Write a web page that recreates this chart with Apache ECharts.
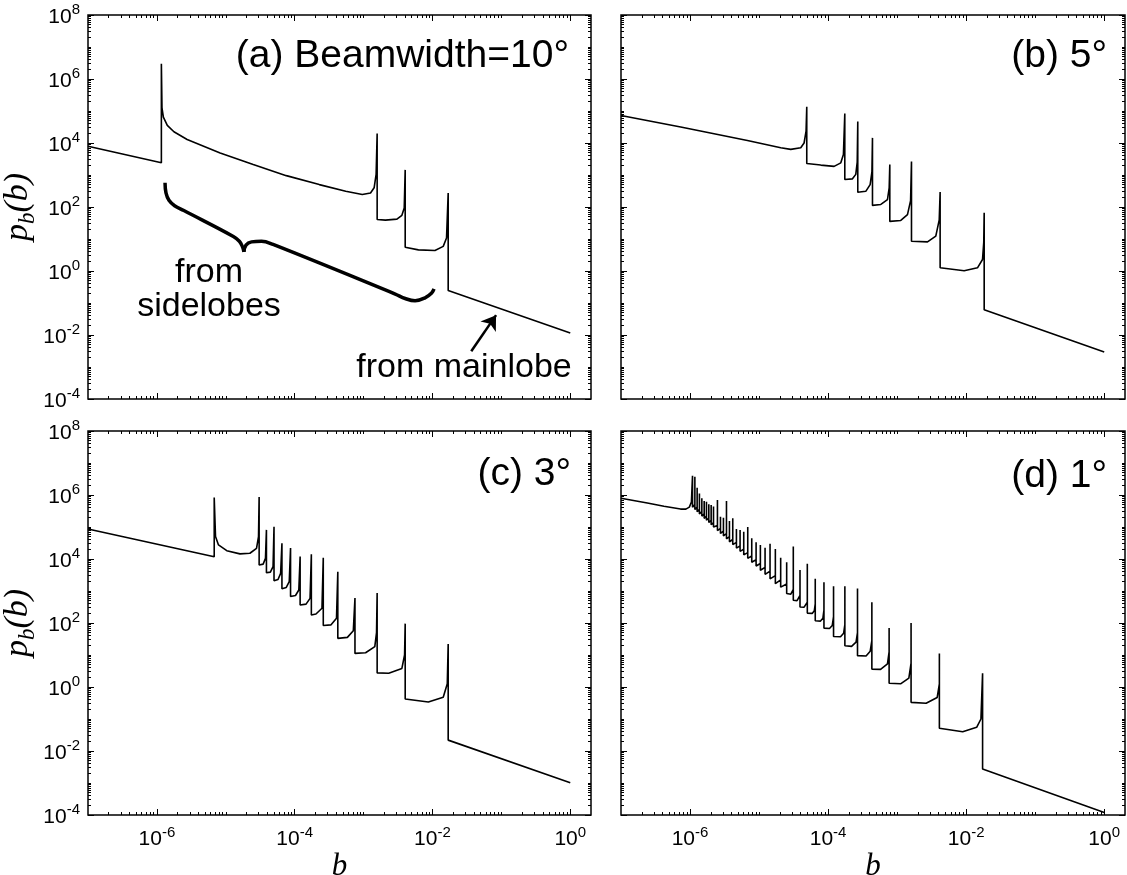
<!DOCTYPE html>
<html>
<head>
<meta charset="utf-8">
<script src="https://cdn.jsdelivr.net/npm/echarts@6/dist/echarts.min.js"></script>
<style>
html,body{margin:0;padding:0;background:#fff;}
#chart{width:1127px;height:875px;}
</style>
</head>
<body>
<div id="chart"></div>
<script>
// ---------- DATA (as [log10 b, log10 p_b(b)]) ----------
const panelA = [
  [-7,3.90],[-5.935,3.38],[-5.935,6.48],[-5.926,5.10],[-5.906,4.81],[-5.849,4.55],[-5.753,4.35],
  [-5.561,4.11],[-5.082,3.69],[-4.602,3.33],[-4.122,2.98],[-3.643,2.70],[-3.259,2.49],[-3.019,2.39],
  [-2.899,2.44],[-2.847,2.60],[-2.818,3.02],[-2.803,4.30],
  [-2.803,1.61],[-2.683,1.59],[-2.516,1.62],[-2.444,1.74],[-2.410,1.97],[-2.396,3.16],
  [-2.396,0.74],[-2.204,0.66],[-1.964,0.64],[-1.844,0.77],[-1.796,1.03],[-1.772,2.44],
  [-1.772,-0.61],[0,-1.94]
];
const panelB = [
  [-7,4.86],[-6.135,4.50],[-5.169,4.08],[-4.686,3.85],[-4.541,3.80],[-4.396,3.85],[-4.348,4.00],[-4.319,4.37],[-4.309,5.13],
  [-4.309,3.36],[-4.106,3.31],[-3.913,3.27],[-3.816,3.38],[-3.778,3.64],[-3.758,4.92],
  [-3.758,2.86],[-3.647,2.88],[-3.599,3.02],[-3.578,3.40],[-3.570,4.67],
  [-3.570,2.46],[-3.454,2.49],[-3.391,2.70],[-3.365,3.10],[-3.357,4.16],
  [-3.357,2.05],[-3.236,2.08],[-3.140,2.23],[-3.115,2.60],[-3.106,3.33],
  [-3.106,1.55],[-2.947,1.58],[-2.850,1.76],[-2.805,2.20],[-2.792,3.42],
  [-2.792,0.93],[-2.560,0.91],[-2.440,1.09],[-2.390,1.60],[-2.377,2.47],
  [-2.377,0.10],[-2.029,0.01],[-1.836,0.10],[-1.763,0.36],[-1.745,0.90],[-1.739,1.82],
  [-1.739,-1.21],[0,-2.53]
];
const panelC = [
  [-7,4.94],[-5.168,4.07],[-5.168,5.92],
  [-5.149,4.70],[-5.106,4.44],[-4.986,4.26],[-4.794,4.16],[-4.650,4.18],[-4.554,4.33],[-4.525,4.70],[-4.516,5.94],
  [-4.516,3.81],[-4.458,3.84],[-4.424,4.02],[-4.410,4.91],
  [-4.410,3.57],[-4.353,3.59],[-4.314,3.76],[-4.300,5.01],
  [-4.300,3.32],[-4.242,3.36],[-4.204,3.55],[-4.185,4.49],
  [-4.185,3.07],[-4.122,3.11],[-4.079,3.29],[-4.060,4.34],
  [-4.060,2.83],[-3.988,2.86],[-3.940,3.03],[-3.921,4.08],
  [-3.921,2.56],[-3.835,2.59],[-3.777,2.77],[-3.758,4.15],
  [-3.758,2.25],[-3.691,2.28],[-3.604,2.46],[-3.585,4.04],
  [-3.585,1.92],[-3.475,1.94],[-3.393,2.15],[-3.374,3.60],
  [-3.374,1.52],[-3.235,1.55],[-3.149,1.76],[-3.125,2.78],
  [-3.125,1.05],[-2.971,1.07],[-2.837,1.26],[-2.812,1.70],[-2.803,2.94],
  [-2.803,0.44],[-2.635,0.43],[-2.444,0.58],[-2.405,1.00],[-2.396,1.98],
  [-2.396,-0.375],[-2.060,-0.47],[-1.844,-0.32],[-1.785,0.10],[-1.772,1.34],
  [-1.772,-1.66],[0,-2.99]
];
const panelD = [
  [-7,5.90],[-6.619,5.75],[-6.378,5.65],[-6.137,5.56],[-6.06,5.56],[-6.01,5.62],[-5.98,5.78],[-5.964,6.60],[-5.964,5.62],
  [-5.930,5.70],[-5.930,6.57],[-5.930,5.55],
  [-5.897,5.62],[-5.897,6.23],[-5.897,5.48],
  [-5.864,5.55],[-5.864,6.05],[-5.864,5.41],
  [-5.829,5.48],[-5.829,5.90],[-5.829,5.34],
  [-5.795,5.41],[-5.795,5.81],[-5.795,5.27],
  [-5.762,5.34],[-5.762,5.79],[-5.762,5.21],
  [-5.728,5.28],[-5.728,5.71],[-5.728,5.14],
  [-5.694,5.21],[-5.694,5.69],[-5.694,5.07],
  [-5.660,5.14],[-5.660,5.64],[-5.660,5.00],
  [-5.603,5.05],[-5.603,5.84],[-5.603,4.89],
  [-5.559,4.96],[-5.559,5.32],[-5.559,4.80],
  [-5.516,4.87],[-5.516,5.29],[-5.516,4.72],
  [-5.472,4.79],[-5.472,5.81],[-5.472,4.63],
  [-5.429,4.70],[-5.429,5.19],[-5.429,4.54],
  [-5.381,4.61],[-5.381,5.27],[-5.381,4.45],
  [-5.328,4.52],[-5.328,4.94],[-5.328,4.34],
  [-5.275,4.41],[-5.275,4.91],[-5.275,4.24],
  [-5.222,4.31],[-5.222,4.85],[-5.222,4.13],
  [-5.164,4.20],[-5.164,5.00],[-5.164,4.02],
  [-5.106,4.10],[-5.106,4.65],[-5.106,3.90],
  [-5.043,3.98],[-5.043,4.52],[-5.043,3.78],
  [-4.981,3.86],[-4.981,4.44],[-4.981,3.65],
  [-4.913,3.74],[-4.913,4.35],[-4.913,3.52],
  [-4.841,3.62],[-4.841,4.48],[-4.841,3.38],
  [-4.764,3.48],[-4.764,4.31],[-4.764,3.23],
  [-4.687,3.35],[-4.687,4.04],[-4.687,3.12],
  [-4.600,3.22],[-4.600,3.90],[-4.600,2.92],
  [-4.540,2.90],[-4.504,3.05],[-4.504,4.39],[-4.504,2.71],
  [-4.450,2.70],[-4.407,2.86],[-4.407,3.66],[-4.407,2.50],
  [-4.350,2.49],[-4.301,2.65],[-4.301,3.85],[-4.301,2.31],
  [-4.230,2.30],[-4.200,2.38],[-4.186,2.60],[-4.186,3.38],[-4.186,2.07],
  [-4.110,2.06],[-4.075,2.15],[-4.060,2.40],[-4.060,3.27],[-4.060,1.84],
  [-3.980,1.83],[-3.940,1.92],[-3.921,2.20],[-3.921,3.15],[-3.921,1.58],
  [-3.820,1.57],[-3.775,1.68],[-3.757,1.95],[-3.757,3.15],[-3.757,1.29],
  [-3.660,1.27],[-3.595,1.40],[-3.574,1.70],[-3.574,3.08],[-3.574,0.98],
  [-3.450,0.97],[-3.390,1.12],[-3.366,1.45],[-3.366,2.65],[-3.366,0.56],
  [-3.240,0.55],[-3.140,0.72],[-3.116,1.10],[-3.116,1.84],[-3.116,0.115],
  [-2.950,0.10],[-2.830,0.28],[-2.798,0.75],[-2.798,2.00],[-2.798,-0.48],
  [-2.580,-0.51],[-2.420,-0.33],[-2.388,0.10],[-2.388,1.05],[-2.388,-1.29],
  [-2.050,-1.40],[-1.848,-1.26],[-1.786,-1.00],[-1.762,0.43],[-1.762,-2.56],
  [0,-3.92]
];
// annotation geometry (data coordinates, log10)
const braceLeft = [[-5.882,2.755],[-5.868,2.44],[-5.825,2.21],[-5.743,2.04],[-5.609,1.89],[-4.890,1.08],[-4.803,0.93],[-4.760,0.77],[-4.736,0.60]];
const braceRight = [[-4.736,0.60],[-4.707,0.81],[-4.626,0.91],[-4.482,0.93],[-4.314,0.83],[-2.540,-0.72],[-2.396,-0.86],[-2.252,-0.93],[-2.108,-0.84],[-2.012,-0.69],[-1.978,-0.56]];
const arrowFrom = [-1.437,-2.51];
const arrowTo = [-1.077,-1.38];

const panelTitles = ['(a) Beamwidth=10°', '(b) 5°', '(c) 3°', '(d) 1°'];
const xLabelTicks = [1e-6, 1e-4, 1e-2, 1];
const yLabelTicks = [1e-4, 1e-2, 1, 1e2, 1e4, 1e6, 1e8];
const xRange = [1e-7, 2];
const yRange = [0.99999e-4, 1.00001e8];

// ---------- helpers ----------
const SANS = '"Liberation Sans", Arial, Helvetica, sans-serif';
const SERIF = '"Liberation Serif", "Times New Roman", serif';
const toVal = pts => pts.map(p => [Math.pow(10, p[0]), Math.pow(10, p[1])]);
function minorTicks(d0, d1, majors) {
  const out = [];
  for (let d = d0; d <= d1; d++) {
    for (let k = 1; k <= 9; k++) {
      const v = k * Math.pow(10, d);
      if (!majors.some(m => Math.abs(Math.log10(m) - Math.log10(v)) < 1e-9)) out.push(v);
    }
  }
  return out;
}
const xMinorTicks = minorTicks(-7, 0, xLabelTicks).filter(v => v > 1.5e-7 && v < 1.99);
const yMinorTicks = minorTicks(-4, 7, yLabelTicks);

const expRich = {
  b: {fontSize: 21, fontFamily: SANS, color: '#000', verticalAlign: 'bottom'},
  s: {fontSize: 15, fontFamily: SANS, color: '#000', verticalAlign: 'top'}
};
const expFormatter = v => '{b|10}{s|' + Math.round(Math.log10(v)) + '}';

const grids = [
  {left: 88, top: 15, width: 503, height: 384},
  {left: 621, top: 15, width: 504, height: 384},
  {left: 88, top: 431, width: 503, height: 384},
  {left: 621, top: 431, width: 504, height: 384}
];

function mkX(gi, pos, ticks, len, labels) {
  return {
    type: 'log', logBase: 10, gridIndex: gi, position: pos,
    min: xRange[0], max: xRange[1], silent: true,
    axisLine: {show: false, onZero: false},
    axisTick: {show: true, inside: true, length: len, customValues: ticks, lineStyle: {color: '#000', width: 1}},
    axisLabel: {show: labels, customValues: xLabelTicks, formatter: expFormatter, rich: expRich, lineHeight: 25, margin: 10},
    splitLine: {show: false}, minorTick: {show: false}, minorSplitLine: {show: false},
    name: labels ? 'b' : '', nameLocation: 'middle', nameGap: 22,
    nameTextStyle: {fontFamily: SERIF, fontStyle: 'italic', fontSize: 31, color: '#000'}
  };
}
function mkY(gi, pos, ticks, len, labels) {
  return {
    type: 'log', logBase: 10, gridIndex: gi, position: pos,
    min: yRange[0], max: yRange[1], silent: true,
    axisLine: {show: false, onZero: false},
    axisTick: {show: true, inside: true, length: len, customValues: ticks, lineStyle: {color: '#000', width: 1}},
    axisLabel: {show: labels, customValues: yLabelTicks, formatter: expFormatter, rich: expRich, lineHeight: 25, margin: 8},
    splitLine: {show: false}, minorTick: {show: false}, minorSplitLine: {show: false},
    name: labels ? '{p|p}{s|b}{p|(b)}' : '', nameLocation: 'middle', nameGap: 38, nameRotate: 90,
    nameTextStyle: {
      lineHeight: 42,
      rich: {
        p: {fontFamily: SERIF, fontStyle: 'italic', fontSize: 34, color: '#000'},
        s: {fontFamily: SERIF, fontStyle: 'italic', fontSize: 23, color: '#000', verticalAlign: 'bottom'}
      }
    }
  };
}

const xAxes = [], yAxes = [];
grids.forEach((g, gi) => {
  const bottomRow = gi >= 2, leftCol = gi % 2 === 0;
  xAxes.push(mkX(gi, 'bottom', xLabelTicks, 6, bottomRow));
  xAxes.push(mkX(gi, 'bottom', xMinorTicks, 3, false));
  xAxes.push(mkX(gi, 'top', xLabelTicks, 6, false));
  xAxes.push(mkX(gi, 'top', xMinorTicks, 3, false));
  yAxes.push(mkY(gi, 'left', yLabelTicks, 6, leftCol));
  yAxes.push(mkY(gi, 'left', yMinorTicks, 3, false));
  yAxes.push(mkY(gi, 'right', yLabelTicks, 6, false));
  yAxes.push(mkY(gi, 'right', yMinorTicks, 3, false));
});

const panels = [panelA, panelB, panelC, panelD];
const series = panels.map((pts, gi) => ({
  type: 'line', xAxisIndex: gi * 4, yAxisIndex: gi * 4,
  data: toVal(pts), showSymbol: false, symbol: 'none', silent: true,
  lineStyle: {color: '#000', width: 1.6}, z: 5
}));
series[0].markLine = {
  silent: true, symbol: ['none', 'arrow'], symbolSize: 14, animation: false,
  lineStyle: {color: '#000', width: 2.5, type: 'solid'}, label: {show: false},
  data: [[{coord: toVal([arrowFrom])[0]}, {coord: toVal([arrowTo])[0]}]]
};
[braceLeft, braceRight].forEach(b => series.push({
  type: 'line', xAxisIndex: 0, yAxisIndex: 0, data: toVal(b), smooth: 0.4,
  showSymbol: false, symbol: 'none', silent: true, lineStyle: {color: '#000', width: 3.5}
}));

const titleRight = [558, 20, 556, 20];
const titleTop = [37, 37, 455, 457];
const titles = panelTitles.map((t, i) => ({
  text: t, right: titleRight[i], top: titleTop[i], padding: 0,
  textStyle: {fontFamily: SANS, fontWeight: 'normal', fontSize: 39, color: '#000'}
}));

const annFont = '34px ' + SANS;
const option = {
  animation: false,
  backgroundColor: '#fff',
  title: titles,
  grid: grids.map(g => Object.assign({show: true, borderColor: '#000', borderWidth: 1.5, backgroundColor: 'transparent', containLabel: false, outerBoundsMode: 'none'}, g)),
  xAxis: xAxes,
  yAxis: yAxes,
  series: series,
  graphic: [
    {type: 'text', style: {x: 209, y: 273, text: 'from', textAlign: 'center', textVerticalAlign: 'middle', font: annFont, fill: '#000'}},
    {type: 'text', style: {x: 209, y: 307, text: 'sidelobes', textAlign: 'center', textVerticalAlign: 'middle', font: annFont, fill: '#000'}},
    {type: 'text', style: {x: 464, y: 368, text: 'from mainlobe', textAlign: 'center', textVerticalAlign: 'middle', font: annFont, fill: '#000'}}
  ]
};
const chart = echarts.init(document.getElementById('chart'), null, {renderer: 'canvas'});
chart.setOption(option);
</script>
</body>
</html>
